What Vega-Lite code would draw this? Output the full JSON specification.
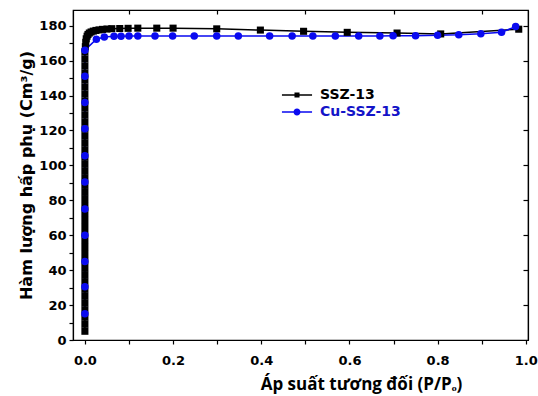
{
  "$schema": "https://vega.github.io/schema/vega-lite/v6.json",
  "autosize": {"type": "none"},
  "padding": {"left": 73, "top": 10, "right": 10, "bottom": 56},
  "width": 455,
  "height": 330,
  "background": "white",
  "config": {
    "view": {"stroke": "black", "strokeWidth": 1.2},
    "axis": {"domainColor": "black", "domainWidth": 1.2, "tickColor": "black", "tickWidth": 1.2, "grid": false,
      "labelFont": "DejaVu Sans", "labelFontWeight": "bold", "labelFontSize": 13, "labelColor": "black",
      "titleColor": "black"},
    "legend": {"orient": "none", "legendX": 217, "legendY": 78, "padding": 0,
      "labelFont": "DejaVu Sans", "labelFontWeight": "bold", "labelFontSize": 14,
      "symbolSize": 196, "symbolStrokeWidth": 0, "labelOffset": 16, "rowPadding": 3}
  },
  "data": {"values": [
    {"series": "SSZ-13", "n": 1, "p": 0.0, "v": 5},
    {"series": "SSZ-13", "n": 2, "p": 0.0, "v": 9},
    {"series": "SSZ-13", "n": 3, "p": 0.0, "v": 13},
    {"series": "SSZ-13", "n": 4, "p": 0.0, "v": 17},
    {"series": "SSZ-13", "n": 5, "p": 0.0, "v": 21},
    {"series": "SSZ-13", "n": 6, "p": 0.0, "v": 25},
    {"series": "SSZ-13", "n": 7, "p": 0.0, "v": 29},
    {"series": "SSZ-13", "n": 8, "p": 0.0, "v": 33},
    {"series": "SSZ-13", "n": 9, "p": 0.0, "v": 37},
    {"series": "SSZ-13", "n": 10, "p": 0.0, "v": 41},
    {"series": "SSZ-13", "n": 11, "p": 0.0, "v": 45},
    {"series": "SSZ-13", "n": 12, "p": 0.0, "v": 49},
    {"series": "SSZ-13", "n": 13, "p": 0.0, "v": 53},
    {"series": "SSZ-13", "n": 14, "p": 0.0, "v": 57},
    {"series": "SSZ-13", "n": 15, "p": 0.0, "v": 61},
    {"series": "SSZ-13", "n": 16, "p": 0.0, "v": 65},
    {"series": "SSZ-13", "n": 17, "p": 0.0, "v": 69},
    {"series": "SSZ-13", "n": 18, "p": 0.0, "v": 73},
    {"series": "SSZ-13", "n": 19, "p": 0.0, "v": 77},
    {"series": "SSZ-13", "n": 20, "p": 0.0, "v": 81},
    {"series": "SSZ-13", "n": 21, "p": 0.0, "v": 85},
    {"series": "SSZ-13", "n": 22, "p": 0.0, "v": 89},
    {"series": "SSZ-13", "n": 23, "p": 0.0, "v": 93},
    {"series": "SSZ-13", "n": 24, "p": 0.0, "v": 97},
    {"series": "SSZ-13", "n": 25, "p": 0.0, "v": 101},
    {"series": "SSZ-13", "n": 26, "p": 0.0, "v": 105},
    {"series": "SSZ-13", "n": 27, "p": 0.0, "v": 109},
    {"series": "SSZ-13", "n": 28, "p": 0.0, "v": 113},
    {"series": "SSZ-13", "n": 29, "p": 0.0, "v": 117},
    {"series": "SSZ-13", "n": 30, "p": 0.0, "v": 121},
    {"series": "SSZ-13", "n": 31, "p": 0.0, "v": 125},
    {"series": "SSZ-13", "n": 32, "p": 0.0, "v": 129},
    {"series": "SSZ-13", "n": 33, "p": 0.0, "v": 133},
    {"series": "SSZ-13", "n": 34, "p": 0.0, "v": 137},
    {"series": "SSZ-13", "n": 35, "p": 0.0, "v": 141},
    {"series": "SSZ-13", "n": 36, "p": 0.0, "v": 145},
    {"series": "SSZ-13", "n": 37, "p": 0.0, "v": 149},
    {"series": "SSZ-13", "n": 38, "p": 0.0, "v": 153},
    {"series": "SSZ-13", "n": 39, "p": 0.0, "v": 157},
    {"series": "SSZ-13", "n": 40, "p": 0.0, "v": 161},
    {"series": "SSZ-13", "n": 41, "p": 0.0, "v": 165},
    {"series": "SSZ-13", "n": 42, "p": 0.001, "v": 168},
    {"series": "SSZ-13", "n": 43, "p": 0.002, "v": 170.5},
    {"series": "SSZ-13", "n": 44, "p": 0.003, "v": 172.5},
    {"series": "SSZ-13", "n": 45, "p": 0.005, "v": 174},
    {"series": "SSZ-13", "n": 46, "p": 0.007, "v": 175},
    {"series": "SSZ-13", "n": 47, "p": 0.01, "v": 175.8},
    {"series": "SSZ-13", "n": 48, "p": 0.014, "v": 176.4},
    {"series": "SSZ-13", "n": 49, "p": 0.019, "v": 176.9},
    {"series": "SSZ-13", "n": 50, "p": 0.025, "v": 177.3},
    {"series": "SSZ-13", "n": 51, "p": 0.032, "v": 177.6},
    {"series": "SSZ-13", "n": 52, "p": 0.04, "v": 177.9},
    {"series": "SSZ-13", "n": 53, "p": 0.05, "v": 178.1},
    {"series": "SSZ-13", "n": 54, "p": 0.061, "v": 178.3},
    {"series": "SSZ-13", "n": 55, "p": 0.079, "v": 178.4},
    {"series": "SSZ-13", "n": 56, "p": 0.098, "v": 178.5},
    {"series": "SSZ-13", "n": 57, "p": 0.12, "v": 178.6},
    {"series": "SSZ-13", "n": 58, "p": 0.163, "v": 178.6},
    {"series": "SSZ-13", "n": 59, "p": 0.2, "v": 178.6},
    {"series": "SSZ-13", "n": 60, "p": 0.299, "v": 178.2},
    {"series": "SSZ-13", "n": 61, "p": 0.398, "v": 177.5},
    {"series": "SSZ-13", "n": 62, "p": 0.496, "v": 176.8},
    {"series": "SSZ-13", "n": 63, "p": 0.595, "v": 176.2},
    {"series": "SSZ-13", "n": 64, "p": 0.708, "v": 175.8},
    {"series": "SSZ-13", "n": 65, "p": 0.807, "v": 175.3},
    {"series": "SSZ-13", "n": 66, "p": 0.984, "v": 178},
    {"series": "Cu-SSZ-13", "n": 1, "p": 0.0, "v": 15},
    {"series": "Cu-SSZ-13", "n": 2, "p": 0.0, "v": 30.5},
    {"series": "Cu-SSZ-13", "n": 3, "p": 0.0, "v": 45},
    {"series": "Cu-SSZ-13", "n": 4, "p": 0.0, "v": 60},
    {"series": "Cu-SSZ-13", "n": 5, "p": 0.0, "v": 75},
    {"series": "Cu-SSZ-13", "n": 6, "p": 0.0, "v": 90.5},
    {"series": "Cu-SSZ-13", "n": 7, "p": 0.0, "v": 105.5},
    {"series": "Cu-SSZ-13", "n": 8, "p": 0.0, "v": 121},
    {"series": "Cu-SSZ-13", "n": 9, "p": 0.0, "v": 136},
    {"series": "Cu-SSZ-13", "n": 10, "p": 0.0, "v": 151},
    {"series": "Cu-SSZ-13", "n": 11, "p": 0.0, "v": 166},
    {"series": "Cu-SSZ-13", "n": 12, "p": 0.026, "v": 172.3},
    {"series": "Cu-SSZ-13", "n": 13, "p": 0.044, "v": 173.5},
    {"series": "Cu-SSZ-13", "n": 14, "p": 0.066, "v": 174},
    {"series": "Cu-SSZ-13", "n": 15, "p": 0.082, "v": 174},
    {"series": "Cu-SSZ-13", "n": 16, "p": 0.1, "v": 174.1},
    {"series": "Cu-SSZ-13", "n": 17, "p": 0.12, "v": 174.1},
    {"series": "Cu-SSZ-13", "n": 18, "p": 0.159, "v": 174.1},
    {"series": "Cu-SSZ-13", "n": 19, "p": 0.199, "v": 174.1},
    {"series": "Cu-SSZ-13", "n": 20, "p": 0.248, "v": 174.1},
    {"series": "Cu-SSZ-13", "n": 21, "p": 0.299, "v": 174.1},
    {"series": "Cu-SSZ-13", "n": 22, "p": 0.348, "v": 174.1},
    {"series": "Cu-SSZ-13", "n": 23, "p": 0.419, "v": 174.1},
    {"series": "Cu-SSZ-13", "n": 24, "p": 0.47, "v": 174.1},
    {"series": "Cu-SSZ-13", "n": 25, "p": 0.517, "v": 174.1},
    {"series": "Cu-SSZ-13", "n": 26, "p": 0.568, "v": 174.1},
    {"series": "Cu-SSZ-13", "n": 27, "p": 0.621, "v": 174.1},
    {"series": "Cu-SSZ-13", "n": 28, "p": 0.669, "v": 174.1},
    {"series": "Cu-SSZ-13", "n": 29, "p": 0.699, "v": 174.2},
    {"series": "Cu-SSZ-13", "n": 30, "p": 0.75, "v": 174.3},
    {"series": "Cu-SSZ-13", "n": 31, "p": 0.8, "v": 174.5},
    {"series": "Cu-SSZ-13", "n": 32, "p": 0.848, "v": 174.8},
    {"series": "Cu-SSZ-13", "n": 33, "p": 0.898, "v": 175.4},
    {"series": "Cu-SSZ-13", "n": 34, "p": 0.945, "v": 176.3},
    {"series": "Cu-SSZ-13", "n": 35, "p": 0.977, "v": 179.5}
  ]},
  "layer": [
    {
      "mark": {"type": "line", "strokeWidth": 1.5},
      "encoding": {
        "x": {"field": "p", "type": "quantitative", "scale": {"domain": [-0.027, 1.005], "nice": false, "zero": false},
          "axis": {"orient": "bottom", "values": [0, 0.1, 0.2, 0.3, 0.4, 0.5, 0.6, 0.7, 0.8, 0.9, 1.0],
            "labelExpr": "round(datum.value * 10) % 2 == 0 ? format(datum.value, '.1f') : ''",
            "tickSize": 4, "labelPadding": 10, "labelFlush": false,
            "title": "Áp suất tương đối (P/Pₒ)", "titleFont": "Open Sans", "titleFontWeight": "bold", "titleFontSize": 17,
            "titleX": 288, "titleAlign": "center", "titlePadding": 9}},
        "y": {"field": "v", "type": "quantitative", "scale": {"domain": [0, 189], "nice": false},
          "axis": {"orient": "left", "values": [0, 10, 20, 30, 40, 50, 60, 70, 80, 90, 100, 110, 120, 130, 140, 150, 160, 170, 180],
            "labelExpr": "round(datum.value / 10) % 2 == 0 ? format(datum.value, 'd') : ''",
            "tickSize": 4, "labelPadding": 3, "labelFlush": false,
            "title": "Hàm lượng hấp phụ (Cm³/g)", "titleFont": "DejaVu Sans", "titleFontWeight": "bold", "titleFontSize": 16,
            "titlePadding": 4}},
        "color": {"field": "series", "type": "nominal", "scale": {"domain": ["SSZ-13", "Cu-SSZ-13"], "range": ["#000000", "#0a0af0"]},
          "legend": {"title": null,
            "labelColor": {"expr": "datum.value === 'SSZ-13' ? '#000000' : '#1414c8'"},
            "symbolType": {"expr": "datum.value === 'SSZ-13' ? 'M-2.15,-0.11H2.15V0.11H-2.15Z M-0.36,-0.36H0.36V0.36H-0.36Z' : 'M-2.15,-0.11H2.15V0.11H-2.15Z M0.5,0A0.5,0.5 0 1,1 -0.5,0A0.5,0.5 0 1,1 0.5,0Z'"},
            "symbolFillColor": {"expr": "datum.value === 'SSZ-13' ? '#000000' : '#0a0af0'"}}},
        "order": {"field": "n", "type": "quantitative"}
      }
    },
    {
      "transform": [{"filter": "datum.series === 'SSZ-13'"}],
      "mark": {"type": "point", "filled": true, "opacity": 1, "size": 50, "strokeWidth": 0, "shape": "square", "color": "#000000"},
      "encoding": {
        "x": {"field": "p", "type": "quantitative",
          "axis": {"orient": "top", "values": [0.1, 0.3, 0.5, 0.7, 0.9], "labels": false, "tickSize": -4, "title": null}},
        "y": {"field": "v", "type": "quantitative",
          "axis": {"orient": "right", "values": [20, 40, 60, 80, 100, 120, 140, 160, 180], "labels": false, "tickSize": -5, "title": null}}
      }
    },
    {
      "transform": [{"filter": "datum.series === 'Cu-SSZ-13'"}],
      "mark": {"type": "point", "filled": true, "opacity": 1, "size": 56, "strokeWidth": 0, "shape": "circle", "color": "#0a0af0"},
      "encoding": {
        "x": {"field": "p", "type": "quantitative", "axis": null},
        "y": {"field": "v", "type": "quantitative", "axis": null}
      }
    }
  ],
  "resolve": {"axis": {"x": "independent", "y": "independent"}}
}
